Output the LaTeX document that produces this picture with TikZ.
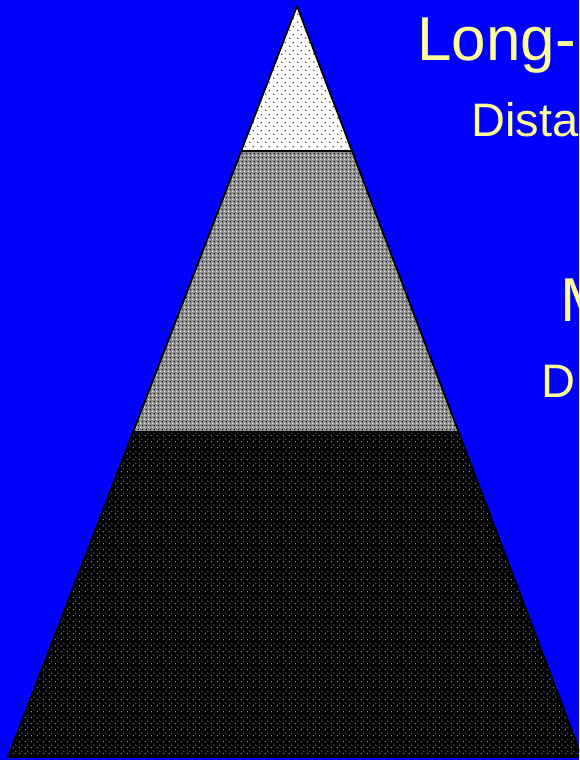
\documentclass[tikz,border=0pt]{standalone}
\usepackage{fontspec}
\setmainfont{Liberation Sans}
\usetikzlibrary{calc,patterns.meta}
\providecommand{\Sky}{0000FF}
\providecommand{\Chalk}{FFFF99}
\newcommand{\Unit}{1pt}
\newcommand{\Edge}{1.8pt}
\definecolor{sky}{HTML}{\Sky}
\definecolor{chalk}{HTML}{\Chalk}
\definecolor{ink}{HTML}{000000}
\definecolor{midgray}{HTML}{8C8C8C}
\definecolor{speck}{HTML}{BEBEBE}

% dot textures laid over the solid band colours
\tikzdeclarepattern{name=sparsedots, type=uncolored,
  bounding box={(0pt,0pt) and (8pt,8pt)}, tile size={(8pt,8pt)},
  code={\fill (2pt,2pt) circle (0.9pt);
        \fill (6pt,6pt) circle (0.9pt);}}
\tikzdeclarepattern{name=finedots, type=uncolored,
  bounding box={(0pt,0pt) and (4pt,4pt)}, tile size={(4pt,4pt)},
  code={\fill (1pt,1pt) circle (0.9pt);}}
\tikzdeclarepattern{name=finedotsb, type=uncolored,
  bounding box={(0pt,0pt) and (4pt,4pt)}, tile size={(4pt,4pt)},
  code={\fill (3pt,3pt) circle (0.75pt);}}
\tikzdeclarepattern{name=nightdots, type=uncolored,
  bounding box={(0pt,0pt) and (6pt,6pt)}, tile size={(6pt,6pt)},
  code={\fill (1.5pt,1.5pt) circle (0.6pt);
        \fill (4.5pt,4.5pt) circle (0.6pt);}}

\begin{document}
\begin{tikzpicture}[x=\Unit,y=\Unit, line join=round,
    bigword/.style={text=chalk, inner sep=0pt, anchor=base west, font=\fontsize{62}{62}\selectfont},
    smallword/.style={text=chalk, inner sep=0pt, anchor=base west, font=\fontsize{47}{47}\selectfont}]

  \useasboundingbox (0,0) rectangle (579,760);
  \clip (0,0) rectangle (579,760);
  \fill[sky] (0,0) rectangle (579,760);

  % ---- the pyramid --------------------------------------------------------
  \coordinate (apex) at (297,754);
  \coordinate (bl) at (8,3);
  \coordinate (br) at (582,3);
  \coordinate (l1) at ($(apex)!0.193!(bl)$);
  \coordinate (r1) at ($(apex)!0.193!(br)$);
  \coordinate (l2) at ($(apex)!0.567!(bl)$);
  \coordinate (r2) at ($(apex)!0.567!(br)$);

  % top band: white with sparse dark dots
  \fill[white] (apex) -- (r1) -- (l1) -- cycle;
  \fill[pattern=sparsedots, pattern color=ink!75] (apex) -- (r1) -- (l1) -- cycle;
  % middle band: grey, white and black specks
  \fill[midgray] (l1) -- (r1) -- (r2) -- (l2) -- cycle;
  \fill[pattern=finedots, pattern color=white] (l1) -- (r1) -- (r2) -- (l2) -- cycle;
  \fill[pattern=finedotsb, pattern color=ink] (l1) -- (r1) -- (r2) -- (l2) -- cycle;
  % bottom band: black with light specks
  \fill[ink] (l2) -- (r2) -- (br) -- (bl) -- cycle;
  \fill[pattern=nightdots, pattern color=speck] (l2) -- (r2) -- (br) -- (bl) -- cycle;

  \draw[ink,line width=\Edge] (apex) -- (br) -- (bl) -- cycle;
  \draw[ink,line width=\Edge] (l1) -- (r1);
  \draw[ink,line width=\Edge] (l2) -- (r2);

  % ---- the words, running off the right edge -------------------------------
  \node[bigword] (long) at (417,699) {Long-};
  \node[smallword] (dista) at (471,623) {Dista};
  \node[bigword] (mid) at (560,438) {M};
  \node[smallword] (dee) at (541,362) {D};

\end{tikzpicture}
\end{document}
